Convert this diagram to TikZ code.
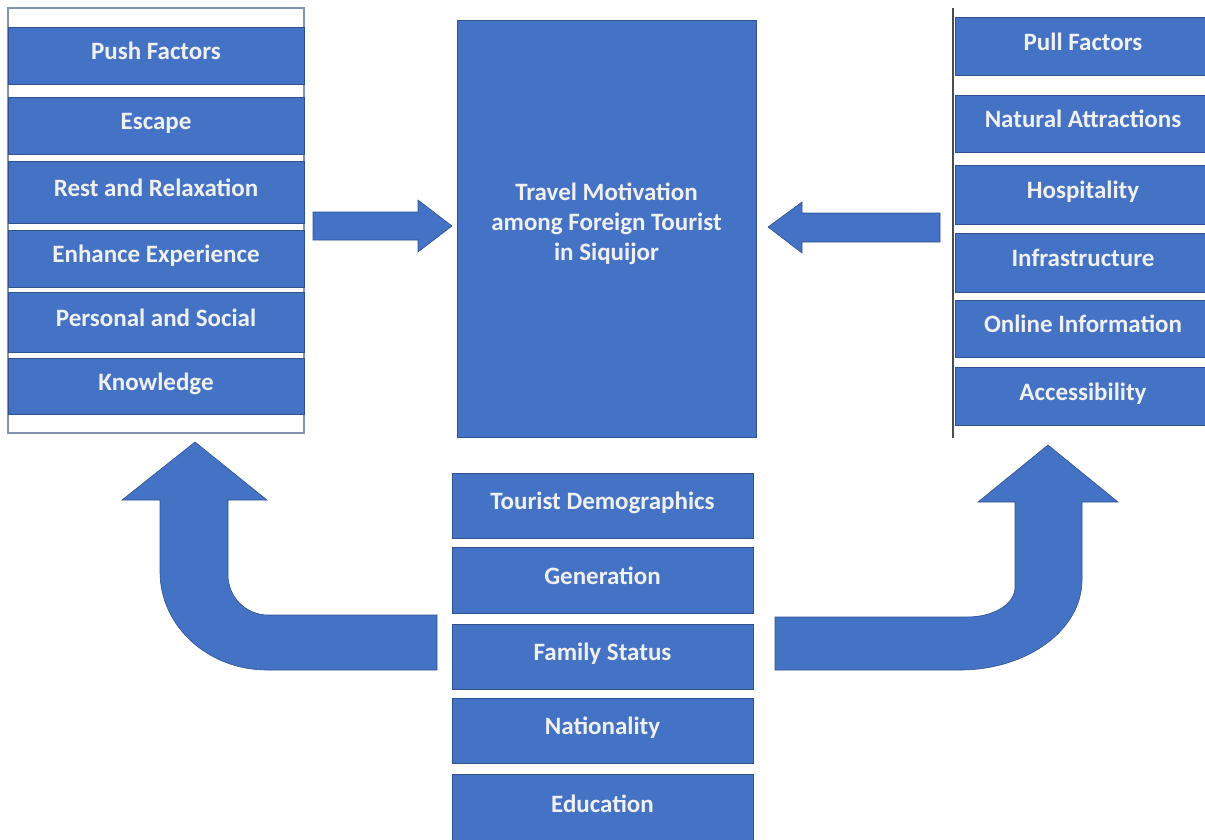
\documentclass[tikz,border=0pt]{standalone}
\usepackage{fontspec}
\setmainfont{Carlito}
\usepackage{tikz}
\usetikzlibrary{
		calc,
		positioning
	}
\definecolor{boxblue}{HTML}{4472C4}
\definecolor{edgeblue}{HTML}{2F528F}
\tikzset{
		bar/.style={fill=boxblue, draw=edgeblue, line width=0.6pt, text=white!94!black,
			font=\bfseries\fontsize{25}{30}\selectfont, inner sep=0pt, align=center},
		rowbar/.style={bar, text height=14pt, text depth=6pt},
		pushbar/.style={rowbar, minimum width=296pt},
		pullbar/.style={rowbar, minimum width=256pt},
		demobar/.style={rowbar, minimum width=301pt},
		blockarrow/.style={fill=boxblue, draw=edgeblue, line width=0.6pt, line join=miter}
	}

\begin{document}
\begin{tikzpicture}[x=1pt, y=-1pt]
    \useasboundingbox (0,0) rectangle (1205,839);

    % the push factors, in a frame
    \draw[black!35!boxblue!60, line width=1.2pt] (8,8) rectangle (304,433);
    \node[pushbar, minimum height=57pt] (push) at (156,55.5) {Push Factors};
    \node[pushbar, minimum height=57pt] (escape) at (156,125.5) {Escape};
    \node[pushbar, minimum height=62pt] (rest) at (156,192) {Rest and Relaxation};
    \node[pushbar, minimum height=57pt] (enhance) at (156,258.5) {Enhance Experience};
    \node[pushbar, minimum height=60pt] (personal) at (156,322) {Personal and Social};
    \node[pushbar, minimum height=56pt] (knowledge) at (156,386) {Knowledge};

    % the pull factors, only the left edge of their frame shows
    \draw[black!70, line width=1.2pt] (953,8) -- (953,438);
    \node[pullbar, minimum height=58pt] (pull) at (1083,46) {Pull Factors};
    \node[pullbar, minimum height=57pt] (natural) at (1083,123.5) {Natural Attractions};
    \node[pullbar, minimum height=59pt] (hosp) at (1083,194.5) {Hospitality};
    \node[pullbar, minimum height=59pt] (infra) at (1083,262.5) {Infrastructure};
    \node[pullbar, minimum height=57pt] (online) at (1083,328.5) {Online Information};
    \node[pullbar, minimum height=58pt] (access) at (1083,396) {Accessibility};

    % the big box in the middle
    \node[bar, minimum width=299pt, minimum height=417pt] (motiv) at (606.5,228.5)
        {Travel Motivation\\among Foreign Tourist\\in Siquijor\\[-16pt]};

    % the demographics below it
    \node[demobar, minimum height=65pt] (demo) at (602.5,505.5) {Tourist Demographics};
    \node[demobar, minimum height=66pt] (gen) at (602.5,580) {Generation};
    \node[demobar, minimum height=65pt] (family) at (602.5,656.5) {Family Status};
    \node[demobar, minimum height=65pt] (nation) at (602.5,730.5) {Nationality};
    \node[demobar, minimum height=68pt] (educ) at (602.5,808) {Education};

    % the two straight block arrows into the middle box
    \filldraw[blockarrow] (313,212) -- (418,212) -- (418,200) -- (452,226)
        -- (418,252) -- (418,240) -- (313,240) -- cycle;
    \filldraw[blockarrow] (940,213) -- (802,213) -- (802,202) -- (768,227)
        -- (802,253) -- (802,242) -- (940,242) -- cycle;

    % the bent arrows from the demographics up to both sides
    \filldraw[blockarrow] (437,615) -- (268,615)
        .. controls (246,615) and (228,597) .. (228,575)
        -- (228,500) -- (267,500) -- (195,442) -- (122,500) -- (160,500)
        -- (160,572) .. controls (160,626) and (208,670) .. (267,670)
        -- (437,670) -- cycle;
    \filldraw[blockarrow] (775,617) -- (967,617)
        .. controls (994,617) and (1015,604) .. (1015,587)
        -- (1015,502) -- (978,502) -- (1048,445) -- (1118,502) -- (1082,502)
        -- (1082,580) .. controls (1082,630) and (1027,670) .. (960,670)
        -- (775,670) -- cycle;

\end{tikzpicture}
\end{document}
